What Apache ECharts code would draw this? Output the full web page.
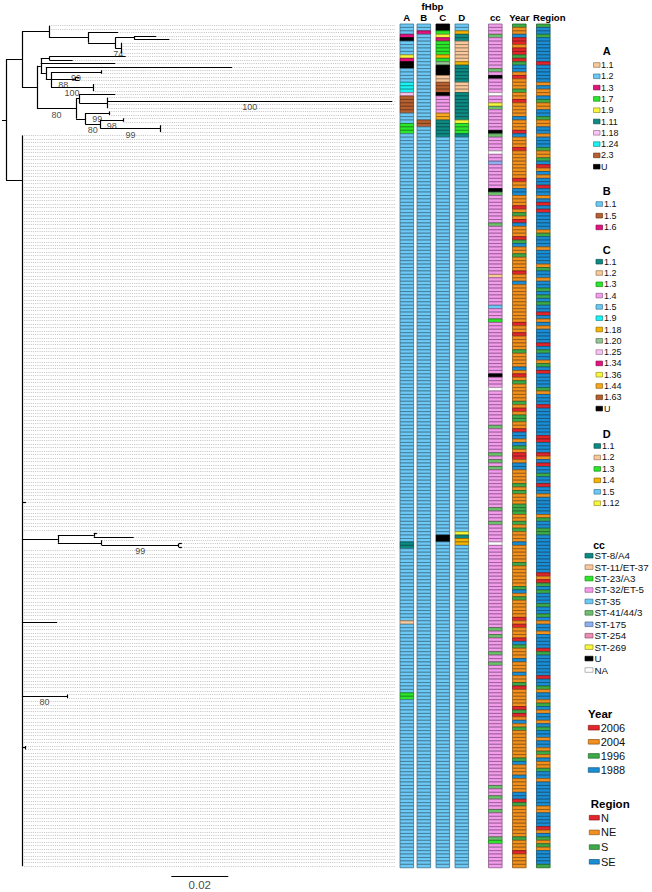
<!DOCTYPE html>
<html><head><meta charset="utf-8">
<script src="https://cdn.jsdelivr.net/npm/echarts@6/dist/echarts.min.js"></script>
<style>html,body{margin:0;padding:0;background:#fff}#c{width:652px;height:892px}</style>
</head><body><div id="c"></div>
<script>
// ---------------- DATA ----------------
const N_ROWS = 246;

// legend categories and colours
const A_CATS = ['1.1','1.2','1.3','1.7','1.9','1.11','1.18','1.24','2.3','U'];
const A_COLORS = ['#F9C89B','#6CC8F5','#E2137C','#2BE62B','#F7F53C','#0E8A84','#F9C4F3','#1CF2F2','#B85F2F','#000000'];
const B_CATS = ['1.1','1.5','1.6'];
const B_COLORS = ['#6CC8F5','#B85F2F','#E2137C'];
const C_CATS = ['1.1','1.2','1.3','1.4','1.5','1.9','1.18','1.20','1.25','1.34','1.36','1.44','1.63','U'];
const C_COLORS = ['#0E8A84','#F9C89B','#2BE62B','#F49BEE','#6CC8F5','#1CF2F2','#F5B400','#94C595','#F9C4F3','#E2137C','#F7F53C','#F8A81C','#B85F2F','#000000'];
const D_CATS = ['1.1','1.2','1.3','1.4','1.5','1.12'];
const D_COLORS = ['#0E8A84','#F9C89B','#2BE62B','#F5B400','#6CC8F5','#F7F53C'];
const CC_CATS = ['ST-8/A4','ST-11/ET-37','ST-23/A3','ST-32/ET-5','ST-35','ST-41/44/3','ST-175','ST-254','ST-269','U','NA'];
const CC_COLORS = ['#0E8A84','#F9C89B','#2BE62B','#F49BEE','#6CC8F5','#6DBE6D','#8DB0F2','#EC8DB4','#F7F53C','#000000','#FFFFFF'];
const YEAR_CATS = ['2006','2004','1996','1988'];
const YEAR_COLORS = ['#E3262C','#F2901E','#3DAA48','#1B8ED3'];
const REGION_CATS = ['N','NE','S','SE'];
const REGION_COLORS = ['#E3262C','#F2901E','#3DAA48','#1B8ED3'];

// column values, run-length encoded [code, count] from top row down
const A_RUNS = [[1,3],[2,1],[9,1],[1,4],[4,1],[2,1],[9,2],[1,4],[7,3],[6,1],[8,5],[1,3],[3,3],[1,119],[5,2],[1,21],[0,1],[1,20],[3,2],[1,49]];
const B_RUNS = [[0,2],[2,1],[0,25],[1,2],[0,216]];
const C_RUNS = [[13,2],[2,1],[10,1],[9,1],[2,4],[6,1],[2,1],[7,1],[13,3],[1,2],[12,3],[13,1],[3,5],[11,2],[0,5],[4,116],[13,2],[4,95]];
const D_RUNS = [[4,2],[3,1],[0,2],[1,6],[3,1],[0,5],[1,3],[0,8],[5,1],[2,3],[0,1],[4,115],[5,1],[0,1],[3,2],[4,94]];
const CC_DEFAULT = 3;
const CC_EXCEPTIONS = [[3,5],[13,5],[15,9],[20,10],[23,8],[24,5],[31,9],[32,5],[37,10],[40,6],[48,9],[49,5],[58,5],[73,1],[82,4],[86,2],[102,9],[106,10],[117,5],[125,5],[127,5],[129,5],[141,5],[145,5],[151,10],[176,5],[178,5],[183,5],[186,5],[222,5],[225,5],[229,5],[237,5],[238,2]];
const YEAR_RUNS = [[2,1],[1,2],[3,1],[0,2],[1,1],[0,2],[2,1],[0,1],[2,1],[3,2],[1,1],[0,1],[1,3],[2,1],[1,2],[0,1],[1,4],[3,1],[1,3],[0,1],[3,1],[1,3],[0,1],
 [1,8],[0,1],[1,2],[3,2],[1,3],[0,1],[1,1],[2,1],[1,1],[0,1],[3,1],[1,3],[0,1],[2,1],[3,1],[1,2],[2,1],[1,4],[0,1],[1,2],[3,1],[1,11],[0,1],[1,2],[0,1],[1,4],[2,1],
 [1,4],[3,1],[1,1],[0,1],[1,1],[2,1],[1,5],[2,1],[1,1],[0,1],[1,1],[2,2],[1,2],[0,1],[3,2],[1,1],[3,1],[2,1],[1,1],[0,2],[1,1],[3,2],[1,4],[2,1],[1,1],[2,1],[1,3],[2,3],[1,2],[2,1],[1,1],[2,1],[1,3],[3,1],
 [1,5],[2,1],[1,6],[2,1],[3,1],[1,1],[2,1],[1,5],[0,1],[1,1],[0,1],[1,3],[0,1],[3,1],[2,1],[1,3],[3,1],[1,3],[3,1],[1,2],[2,1],[0,1],[1,5],[0,1],[2,1],[0,1],[1,1],[3,1],[1,1],[2,1],[1,8],
 [2,1],[3,1],[1,3],[3,1],[1,4],[3,2],[0,1],[2,1],[1,9],[2,1],[1,3],[0,1],[1,4]];
const REGION_RUNS = [[2,1],[3,2],[2,1],[3,7],[0,1],[3,5],[1,1],[3,1],[1,2],[3,1],[2,1],[1,2],[3,2],[2,1],[1,2],[3,2],[1,1],[3,3],[2,1],[1,2],
 [2,1],[3,1],[0,1],[1,1],[3,1],[1,1],[3,2],[0,1],[3,2],[1,1],[3,1],[0,1],[3,1],[0,1],[3,5],[1,1],[2,1],[3,3],[1,1],[3,4],[1,1],[2,1],[3,2],[1,1],[3,2],[2,1],[3,1],[2,1],[3,1],[2,1],[3,2],[0,1],[3,1],[1,1],[3,1],[1,1],[3,4],[0,1],[3,1],[2,1],[3,2],
 [1,1],[2,1],[3,1],[0,1],[3,4],[2,1],[1,1],[3,3],[0,1],[3,8],[0,2],[3,3],[0,1],[1,1],[3,1],[0,1],[3,2],[2,1],[3,2],[0,1],[3,2],[1,1],[3,5],[1,1],[2,1],[3,2],[2,2],[3,7],
 [3,4],[0,1],[1,1],[0,1],[2,1],[3,1],[2,1],[3,3],[2,1],[3,2],[2,1],[3,1],[1,1],[3,2],[1,1],[3,4],[0,1],[2,1],[3,6],[0,1],[3,2],[2,1],[1,1],[3,2],[1,1],[2,1],[3,1],[1,1],[3,2],[1,1],[3,1],[2,1],[3,2],[1,1],[3,2],[1,1],[2,1],[1,1],
 [3,1],[1,2],[2,1],[3,2],[1,1],[3,7],[1,2],[3,4],[0,1],[1,1],[3,1],[2,1],[1,1],[2,1],[1,1],[3,4],[2,1]];

// tree: l = branch length (substitutions/site), r = leaf row, bs = bootstrap
const L = (l, r, bs) => ({l, r, bs});
const T = (l, c, bs) => ({l, c, bs});
const CLADE_1 = T(0.0095, [L(0,0), L(0,1), T(0.0137, [L(0.0105,2), T(0.0095, [T(0.0067,[L(0.0077,3), L(0.0123,4)]), T(0.0021,[L(0,5),L(0,6),L(0,7),L(0,8)],'74')])])]);
const CLADE_2 = T(0.0053, [
  T(0.0013, [T(0.0030,[L(0.0268,9), L(0.0082,10)]), L(0.0261,11),
    T(0.0018, [L(0.0653,12), T(0.0018, [T(0.0176,[L(0,13),L(0,14)],'99'), T(0.0085,[L(0.0014,15),L(0.0014,16)],'88'), T(0.0147,[L(0,17),L(0,18),L(0,19)],'100')])])]),
  T(0.0137, [
    T(0.0011, [L(0.0126,20), T(0.0098,[L(0,21), L(0.1000,22,'100'), L(0,23), L(0,24)])]),
    T(0.0032, [T(0.0084,[L(0,25),L(0,26)],'99'), T(0.0053,[T(0.0081,[L(0,27),L(0,28)],'98'), T(0.0211,[L(0,29),L(0,30),L(0,31)],'99')],'80')])
  ],'80')
]);
const COMB_ROWS = [32, 245];
const COMB_STEM_ROW = 45;
const COMB_SUBTREES = [
  L(0.0014,139),
  T(0.0126,[T(0.0126,[L(0.0011,148), L(0.0140,149)]), T(0.0154,[L(0,150), T(0.0270,[L(0.0011,151), L(0.0011,152)],'99')])]),
  L(0.0123,174),
  T(0.0158,[L(0,195), L(0,196)],'80'),
  T(0.0013,[L(0,210), L(0,211)])
];
const STEM = 0.0056, ROOT_STEM = 0.0014;
const SCALE_BAR = {start: 0.058, length: 0.02, label: '0.02'};

// ---------------- LAYOUT ----------------
const FONT = '"Liberation Sans", Arial, Helvetica, sans-serif';
const ROW = 3.43, TOP = 24;
const TREE = {left: 2, width: 393, height: 866, xMin: -ROOT_STEM, xMax: 0.1365};
const COLS = [
  {name:'A', left:400, runs:A_RUNS, colors:A_COLORS},
  {name:'B', left:417, runs:B_RUNS, colors:B_COLORS},
  {name:'C', left:436, runs:C_RUNS, colors:C_COLORS},
  {name:'D', left:455, runs:D_RUNS, colors:D_COLORS},
  {name:'cc', left:488.5, colors:CC_COLORS},
  {name:'Year', left:512.5, runs:YEAR_RUNS, colors:YEAR_COLORS},
  {name:'Region', left:536.5, runs:REGION_RUNS, colors:REGION_COLORS, padL:12}
];
const COL_W = 13.6;
const LEGENDS = [
  {title:'A', cats:A_CATS, colors:A_COLORS, tx:606.7, ty:50.7, ta:'center', ts:11, y0:65, dy:11.3, sx:593.5, sw:6.5, lx:601, ls:9},
  {title:'B', cats:B_CATS, colors:B_COLORS, tx:606.7, ty:190.5, ta:'center', ts:11, y0:204, dy:11.7, sx:596, sw:6.5, lx:604, ls:9},
  {title:'C', cats:C_CATS, colors:C_COLORS, tx:606.7, ty:250, ta:'center', ts:11, y0:261.7, dy:11.3, sx:596, sw:6.5, lx:604, ls:9},
  {title:'D', cats:D_CATS, colors:D_COLORS, tx:606.7, ty:434, ta:'center', ts:11, y0:446, dy:11.45, sx:594, sw:6.5, lx:602, ls:9},
  {title:'cc', cats:CC_CATS, colors:CC_COLORS, tx:599, ty:545, ta:'center', ts:10.5, y0:555.7, dy:11.43, sx:585, sw:8, lx:594.5, ls:9.8},
  {title:'Year', cats:YEAR_CATS, colors:YEAR_COLORS, tx:588, ty:713.5, ta:'left', ts:11.5, y0:727.7, dy:14.1, sx:588.3, sw:11, lx:600.7, ls:11},
  {title:'Region', cats:REGION_CATS, colors:REGION_COLORS, tx:590.7, ty:803.5, ta:'left', ts:11.5, y0:817.7, dy:14.7, sx:589.3, sw:10, lx:601, ls:11}
];

// ---------------- BUILD ----------------
function expand(runs){ const out=[]; runs.forEach(([c,n])=>{for(let i=0;i<n;i++) out.push(c);}); while(out.length<N_ROWS) out.push(out[out.length-1]); return out.slice(0,N_ROWS); }
function ccCodes(){ const out=new Array(N_ROWS).fill(CC_DEFAULT); CC_EXCEPTIONS.forEach(([r,c])=>{out[r]=c;}); return out; }
function darker(hex,f){ const n=parseInt(hex.slice(1),16); const r=(n>>16)&255,g=(n>>8)&255,b=n&255; if(r+g+b>740) return 'rgb(150,150,150)'; return 'rgb('+Math.round(r*f)+','+Math.round(g*f)+','+Math.round(b*f)+')'; }

// comb children
function subRows(n){ return n.c ? n.c.flatMap(subRows) : [n.r]; }
const used = {}; COMB_SUBTREES.forEach(s=>subRows(s).forEach(r=>used[r]=s));
const combChildren = []; const placed = new Set();
for (let r=COMB_ROWS[0]; r<=COMB_ROWS[1]; r++){
  if (used[r]) { if(!placed.has(used[r])){placed.add(used[r]); combChildren.push(used[r]);} }
  else combChildren.push(L(0,r));
}
const COMB = T(STEM, combChildren); COMB.at = COMB_STEM_ROW;
const ROOT = T(ROOT_STEM, [T(STEM, [CLADE_1, CLADE_2]), COMB]);

const segs=[], dots=[], bsPts=[];
function lay(node, x0){
  node.x = x0 + node.l;
  if (node.c){
    node.c.forEach(ch=>lay(ch,node.x));
    const f=node.c[0].y, la=node.c[node.c.length-1].y;
    node.y = node.at!=null ? node.at : (f+la)/2;
    segs.push({coords:[[node.x,f],[node.x,la]]});
  } else {
    node.y = node.r;
    dots.push({coords:[[node.x,node.y],[TREE.xMax,node.y]]});
  }
  if (node.l>0) segs.push({coords:[[x0,node.y],[node.x,node.y]]});
  if (node.bs) bsPts.push({name:node.bs, value:[(x0+node.x)/2,node.y]});
}
lay(ROOT, TREE.xMin);

const treeYMax = -0.5 + TREE.height/ROW;
const scaleY = N_ROWS + 2;
const grids=[{left:TREE.left, top:TOP, width:TREE.width, height:TREE.height}];
const xAxes=[{type:'value', gridIndex:0, min:TREE.xMin, max:TREE.xMax, show:false}];
const yAxes=[{type:'value', gridIndex:0, min:-0.5, max:treeYMax, inverse:true, show:false}];
const series=[
  {type:'lines', coordinateSystem:'cartesian2d', xAxisIndex:0, yAxisIndex:0, data:dots, silent:true,
   lineStyle:{color:'#b4b4b4', width:0.8, type:[1,1.2], opacity:1}},
  {type:'lines', coordinateSystem:'cartesian2d', xAxisIndex:0, yAxisIndex:0, data:segs, silent:true,
   lineStyle:{color:'#000', width:1.2, opacity:1}},
  {type:'lines', coordinateSystem:'cartesian2d', xAxisIndex:0, yAxisIndex:0, silent:true,
   data:[{coords:[[SCALE_BAR.start,scaleY],[SCALE_BAR.start+SCALE_BAR.length,scaleY]]}],
   lineStyle:{color:'#000', width:1.2, opacity:1}},
  {type:'scatter', xAxisIndex:0, yAxisIndex:0, symbolSize:1, itemStyle:{color:'transparent'}, silent:true,
   data:bsPts.concat([{name:SCALE_BAR.label, value:[SCALE_BAR.start+SCALE_BAR.length/2, scaleY], label:{fontSize:11.5, offset:[0,8.5]}}]),
   label:{show:true, formatter:p=>p.name, position:'inside', offset:[0,6], fontSize:9, color:'#111', fontFamily:FONT}}
];
const rowCats = Array.from({length:N_ROWS},(_,i)=>String(i));
COLS.forEach((col,i)=>{
  const gi=i+1;
  const codes = col.runs ? expand(col.runs) : ccCodes();
  grids.push({left:col.left, top:TOP, width:COL_W, height:N_ROWS*ROW});
  xAxes.push({type:'category', gridIndex:gi, data:[col.name], position:'top',
    axisLine:{show:false}, axisTick:{show:false},
    axisLabel:{show:true, interval:0, margin:2, fontSize:9.6, fontWeight:'bold', color:'#000', fontFamily:FONT,
      padding:[0,0,0,col.padL||0]}});
  yAxes.push({type:'category', gridIndex:gi, data:rowCats, inverse:true, show:false});
  const colors = col.colors;
  series.push({type:'custom', xAxisIndex:gi, yAxisIndex:gi, silent:true,
    data: codes.map((c,r)=>[0,r,c]),
    renderItem:(params,api)=>{
      const p=api.coord([api.value(0),api.value(1)]), s=api.size([1,1]);
      const fill=colors[api.value(2)];
      return {type:'rect', shape:{x:p[0]-s[0]/2, y:p[1]-s[1]/2, width:s[0], height:s[1]},
        style:{fill:fill, stroke:darker(fill,0.58), lineWidth:0.8}};
    }});
});

const graphic=[{type:'text', x:432.5, y:6, style:{text:'fHbp', fontSize:9.6, fontWeight:'bold', fontFamily:FONT, fill:'#000', align:'center', verticalAlign:'middle'}}];
LEGENDS.forEach(lg=>{
  graphic.push({type:'text', x:lg.tx, y:lg.ty, style:{text:lg.title, fontSize:lg.ts, fontWeight:'bold', fontFamily:FONT, fill:'#000', align:lg.ta, verticalAlign:'middle'}});
  lg.cats.forEach((c,i)=>{
    const y=lg.y0+i*lg.dy;
    graphic.push({type:'rect', shape:{x:lg.sx, y:y-2.3, width:lg.sw, height:4.6}, style:{fill:lg.colors[i], stroke:darker(lg.colors[i],0.6), lineWidth:0.7}});
    graphic.push({type:'text', x:lg.lx, y:y, style:{text:c, fontSize:lg.ls, fontFamily:FONT, fill:'#111', align:'left', verticalAlign:'middle'}});
  });
});

const chart = echarts.init(document.getElementById('c'), null, {renderer:'svg', width:652, height:892});
chart.setOption({animation:false, backgroundColor:'#fff', grid:grids, xAxis:xAxes, yAxis:yAxes, series:series, graphic:graphic});
</script></body></html>
